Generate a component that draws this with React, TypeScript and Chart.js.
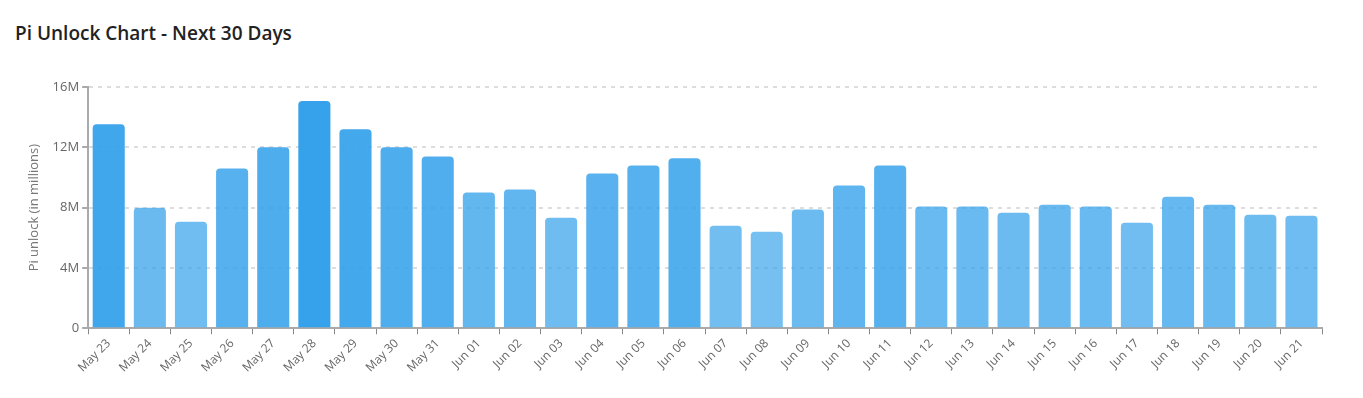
import React, { useEffect, useRef } from "react";
import { Chart, registerables } from "chart.js";

Chart.register(...registerables);

const labels = [
  "May 23", "May 24", "May 25", "May 26", "May 27", "May 28", "May 29", "May 30", "May 31",
  "Jun 01", "Jun 02", "Jun 03", "Jun 04", "Jun 05", "Jun 06", "Jun 07", "Jun 08", "Jun 09",
  "Jun 10", "Jun 11", "Jun 12", "Jun 13", "Jun 14", "Jun 15", "Jun 16", "Jun 17", "Jun 18",
  "Jun 19", "Jun 20", "Jun 21",
];

// Pi unlock values in millions
const unlockValues = [
  13.53, 8.0, 7.07, 10.6, 12.0, 15.07, 13.2, 12.0, 11.4,
  9.0, 9.2, 7.33, 10.27, 10.8, 11.27, 6.8, 6.4, 7.87,
  9.47, 10.8, 8.07, 8.07, 7.67, 8.2, 8.07, 7.0, 8.73,
  8.2, 7.53, 7.47,
];

const yTicks = [0, 4, 8, 12, 16];

export default function App() {
  const ref = useRef<HTMLCanvasElement>(null);

  useEffect(() => {
    if (!ref.current) return;
    const max = Math.max(...unlockValues);
    const colors = unlockValues.map(
      (v) => `rgba(54,162,235,${(0.45 + 0.55 * (v / max)).toFixed(3)})`
    );
    const chart = new Chart(ref.current, {
      type: "bar",
      data: {
        labels,
        datasets: [
          {
            label: "Pi unlock",
            data: unlockValues,
            backgroundColor: colors,
            borderWidth: 0,
            borderRadius: 4,
            borderSkipped: "bottom",
            categoryPercentage: 1,
            barPercentage: 0.78,
          },
        ],
      },
      options: {
        animation: false,
        responsive: true,
        maintainAspectRatio: false,
        layout: { padding: { top: 35, right: 33, left: 18, bottom: 5 } },
        plugins: {
          legend: { display: false },
          tooltip: { enabled: false },
          title: { display: false },
        },
        scales: {
          x: {
            grid: {
              display: true,
              drawOnChartArea: false,
              drawTicks: true,
              tickLength: 6,
              tickColor: "#888",
              tickWidth: 1,
            },
            border: { display: true, color: "#aaa", width: 2 },
            ticks: {
              color: "#666",
              font: { family: "'Open Sans', sans-serif", size: 12 },
              minRotation: 45,
              maxRotation: 45,
              autoSkip: false,
              padding: 2,
            },
          },
          y: {
            min: 0,
            max: 16,
            afterBuildTicks: (scale: any) => {
              scale.ticks = yTicks.map((v) => ({ value: v }));
            },
            grid: {
              color: "#ddd",
              lineWidth: 2,
              drawTicks: true,
              tickLength: 6,
              tickColor: "#aaa",
              tickWidth: 2,
            },
            border: { display: true, color: "#aaa", width: 2, dash: [4, 5] },
            ticks: {
              color: "#666",
              font: { family: "'Open Sans', sans-serif", size: 13 },
              padding: 3,
              callback: (v: any) => (Number(v) === 0 ? "0" : `${v}M`),
            },
            title: {
              display: true,
              text: "Pi unlock (in millions)",
              color: "#777",
              font: { family: "'Open Sans', sans-serif", size: 13 },
              padding: { top: 0, bottom: 8 },
            },
          },
        },
      },
    });
    return () => chart.destroy();
  }, []);

  return (
    <div style={{ fontFamily: "'Open Sans', 'Noto Sans', sans-serif" }}>
      <div
        style={{
          fontSize: 19,
          fontWeight: 600,
          color: "#222",
          padding: "12px 0 0 7px",
          height: 32,
        }}
      >
        Pi Unlock Chart - Next 30 Days
      </div>
      <div style={{ position: "relative", width: 1347, height: 330 }}>
        <canvas ref={ref} />
      </div>
    </div>
  );
}
